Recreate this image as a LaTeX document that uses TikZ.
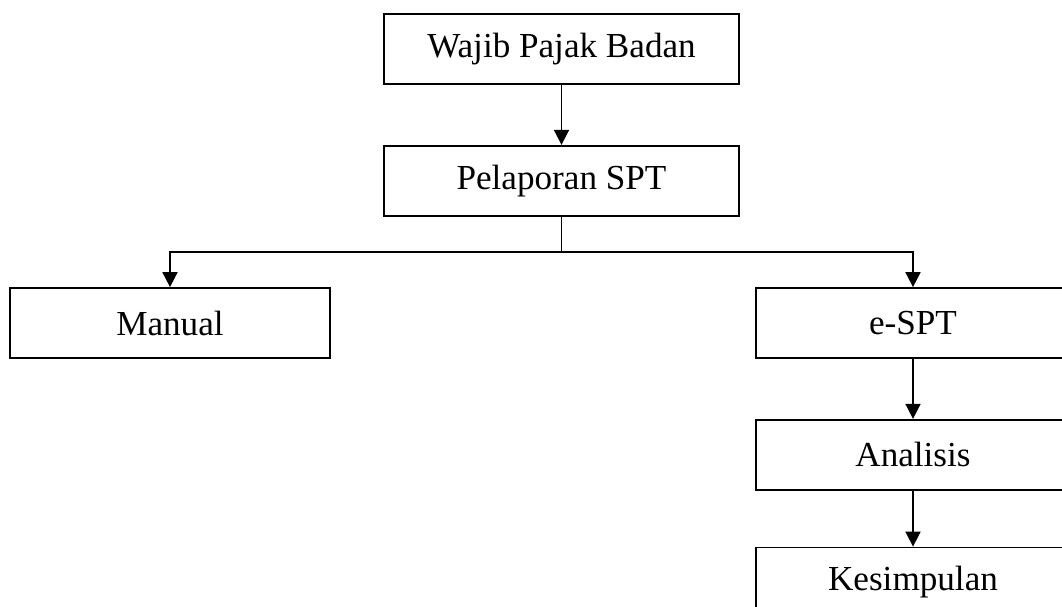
\documentclass[tikz,border=0pt]{standalone}
\usepackage{fontspec}
\setmainfont{Liberation Serif}
\usetikzlibrary{positioning, arrows.meta}

\begin{document}
\begin{tikzpicture}[x=0.02cm, y=-0.02cm, line width=1pt,
  box/.style={draw, minimum height=1.4cm, inner sep=0pt, font=\fontsize{20}{24}\selectfont},
  >={Triangle[width=0.3cm, length=0.3cm]}]
\useasboundingbox (0,0) rectangle (1062,607);
\clip (0,0) rectangle (1062,607);
\node[box, minimum width=7.1cm] (wpb) at (561.5,49) {Wajib Pajak Badan};
\node[box, minimum width=7.1cm, below = 1.2cm of wpb] (spt) {Pelaporan SPT};
\node[box, minimum width=6.4cm] (man) at (170,323) {Manual};
\node[box, minimum width=6.28cm] (espt) at (913,323) {e-SPT};
\node[box, minimum width=6.28cm, below = 1.2cm of espt] (ana) {Analisis};
\node[box, minimum width=6.28cm, below = 1.12cm of ana] (kes) {Kesimpulan};
\coordinate (split) at (561.5,252);
\draw[->] (wpb) -- (spt);
\draw (spt) -- (split);
\draw[->] (split) -| (man);
\draw[->] (split) -| (espt);
\draw[->] (espt) -- (ana);
\draw[->] (ana) -- (kes);
\end{tikzpicture}
\end{document}
